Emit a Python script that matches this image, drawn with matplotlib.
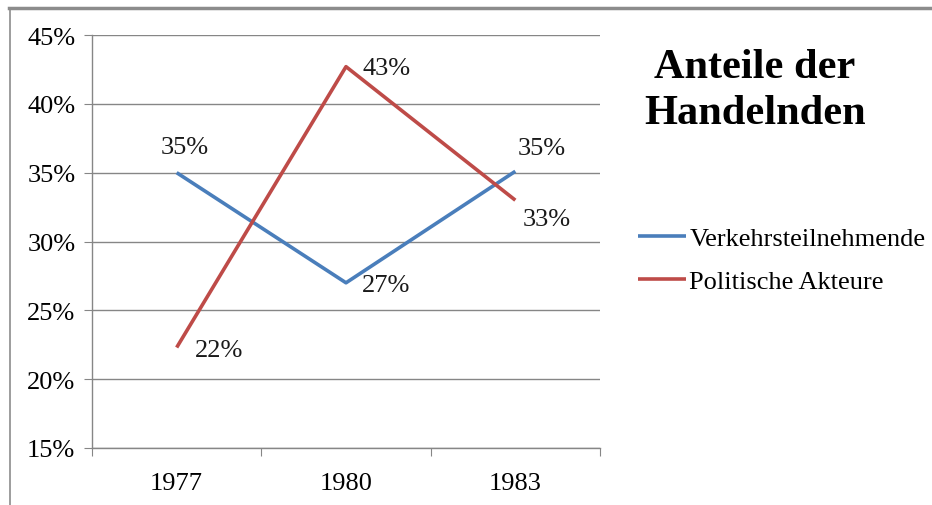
import matplotlib.pyplot as plt
from matplotlib.lines import Line2D
import numpy as np

years = ["1977", "1980", "1983"]
verkehr = [35.0, 27.0, 35.1]
politik = [22.3, 42.7, 33.0]
verkehr_labels = ["35%", "27%", "35%"]
politik_labels = ["22%", "43%", "33%"]
yticks = [15, 20, 25, 30, 35, 40, 45]

plt.rcParams["font.family"] = ["Liberation Serif", "DejaVu Serif"]
grey = "#868686"
blue = "#4A7EBB"
red = "#BE4B48"
fs = 19

fig = plt.figure(figsize=(9.32, 5.06), dpi=100)
ax = fig.add_axes([92 / 932, 57 / 506, 508 / 932, 413 / 506])

x = np.arange(1, len(years) + 1)
ax.plot(x, verkehr, color=blue, lw=2.6, solid_capstyle="butt", label="Verkehrsteilnehmende", zorder=3)
ax.plot(x, politik, color=red, lw=2.6, solid_capstyle="butt", label="Politische Akteure", zorder=3)

ax.set_xlim(0.5, 3.5)
ax.set_ylim(15, 45)
ax.set_yticks(yticks)
ax.set_yticklabels([f"{t}%" for t in yticks], fontsize=fs)
ax.yaxis.grid(True, color=grey, lw=1)
ax.set_axisbelow(True)

ax.set_xticks([0.5, 1.5, 2.5, 3.5])
ax.set_xticklabels([])
ax.set_xticks(x, minor=True)
ax.set_xticklabels(years, minor=True, fontsize=fs)
ax.tick_params(axis="x", which="major", length=6, color=grey, direction="out")
ax.tick_params(axis="x", which="minor", length=0, pad=17)
ax.tick_params(axis="y", length=6, color=grey, pad=6)

for s in ["top", "right"]:
    ax.spines[s].set_visible(False)
for s in ["left", "bottom"]:
    ax.spines[s].set_color(grey)
    ax.spines[s].set_linewidth(1)

# data labels
v_off = [(8, 26), (40, -2), (26, 23)]
p_off = [(42, -2), (41, -1), (31, -19)]
for xi, yi, lab, (dx, dy) in zip(x, verkehr, verkehr_labels, v_off):
    ax.annotate(lab, (xi, yi), xytext=(dx, dy), textcoords="offset pixels",
                ha="center", va="center", fontsize=fs, color="#1a1a1a")
for xi, yi, lab, (dx, dy) in zip(x, politik, politik_labels, p_off):
    ax.annotate(lab, (xi, yi), xytext=(dx, dy), textcoords="offset pixels",
                ha="center", va="center", fontsize=fs, color="#1a1a1a")

fig.text(755 / 932, 1 - 91 / 506, "Anteile der\nHandelnden", ha="center", va="center",
         fontsize=30.5, fontweight="bold", linespacing=1.3)

fig.legend(loc="center left", bbox_to_anchor=(638 / 932, 1 - 261 / 506), frameon=False,
           fontsize=fs, handlelength=1.8, handletextpad=0.15, labelspacing=0.75,
           borderaxespad=0, borderpad=0)

# chart frame (top and left edges)
fig.add_artist(Line2D([9 / 932, 1], [1 - 9 / 506] * 2, color="#8c8c8c", lw=2.5))
fig.add_artist(Line2D([10 / 932] * 2, [0, 1 - 9 / 506], color="#8c8c8c", lw=1.2))

fig.savefig("out.png", dpi=100)
